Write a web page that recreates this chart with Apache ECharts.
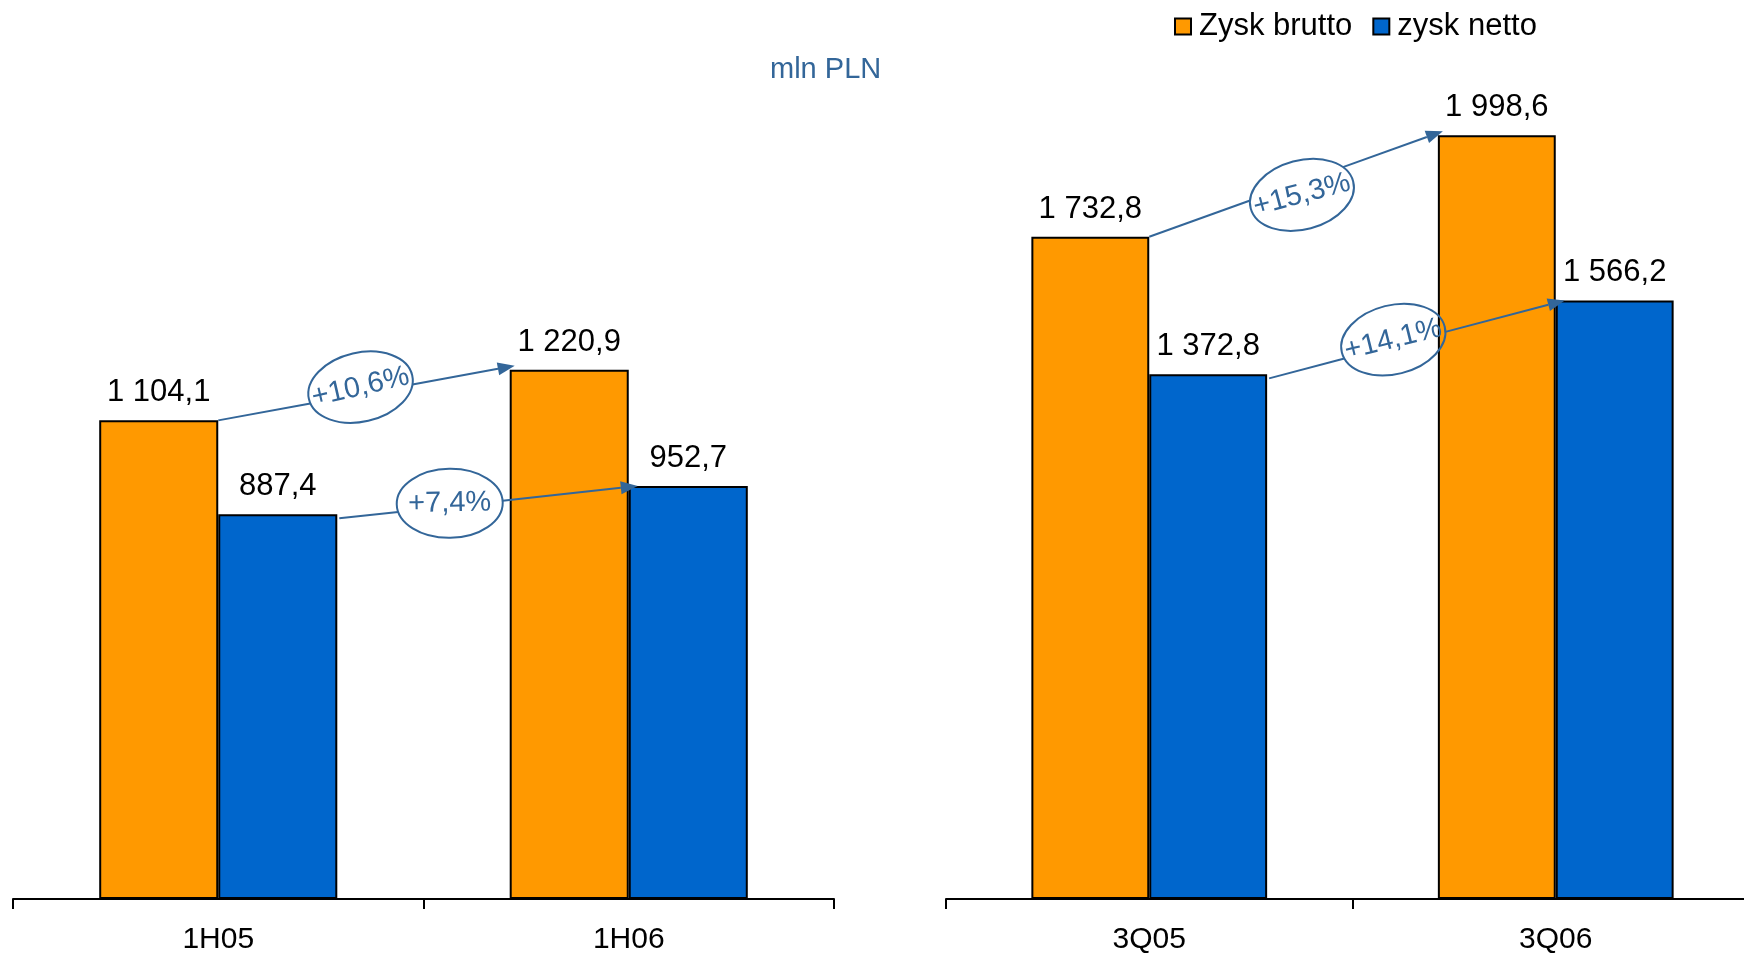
<!DOCTYPE html>
<html>
<head>
<meta charset="utf-8">
<script src="https://cdn.jsdelivr.net/npm/echarts@6/dist/echarts.min.js"></script>
<style>
  html, body { margin: 0; padding: 0; background: #fff; }
  #chart { width: 1744px; height: 963px; }
</style>
</head>
<body>
<div id="chart"></div>
<script>
const leftCats = ['1H05', '1H06'];
const rightCats = ['3Q05', '3Q06'];
const bruttoLeft = [1104.1, 1220.9];
const nettoLeft = [887.4, 952.7];
const bruttoRight = [1732.8, 1998.6];
const nettoRight = [1372.8, 1566.2];
const growthLeft = ['+10,6%', '+7,4%'];
const growthRight = ['+15,3%', '+14,1%'];

const ORANGE = '#FF9900';
const BLUE = '#0066CC';
const NOTE = '#336699';
const GAP = 0.42;
const FONT = "'Liberation Sans', Arial, sans-serif";

// ellipse placement along arrow (fraction), vertical nudge and tilt in degrees
const noteLeft = [{ t: 0.48, off: -7, tilt: 13 }, { t: 0.37, off: -3, tilt: 1 }];
const noteRight = [{ t: 0.52, off: 13, tilt: 15 }, { t: 0.42, off: -6, tilt: 14 }];

function fmt(v) {
  const parts = v.toFixed(1).split('.');
  return parts[0].replace(/\B(?=(\d{3})+(?!\d))/g, ' ') + ',' + parts[1];
}

function arrowData(brutto, netto) {
  return [
    [0, brutto[0], 1, brutto[1], 0],
    [0, netto[0], 1, netto[1], 1]
  ];
}

function makeRender(labels, notes) {
  return function (params, api) {
    const i = params.dataIndex;
    const side = api.value(4);
    const p0 = api.coord([api.value(0), api.value(1)]);
    const p1 = api.coord([api.value(2), api.value(3)]);
    const band = api.size([1, 0])[0];
    const barW = band * (1 - GAP) / 2;
    const sx = side ? p0[0] + barW + 2 : p0[0];
    const sy = side ? p0[1] + 4 : p0[1];
    const ex = side ? p1[0] + 9 : p1[0] - barW + 5;
    const ey = side ? p1[1] : p1[1] - 4;
    const dx = ex - sx, dy = ey - sy;
    const len = Math.sqrt(dx * dx + dy * dy);
    const ux = dx / len, uy = dy / len;
    const n = notes[i];
    const cx = sx + dx * n.t, cy = sy + dy * n.t + n.off;
    const rx = 53, ry = 34.5;
    const rot = n.tilt * Math.PI / 180;
    // line / ellipse crossing, in the ellipse's own frame
    const c = Math.cos(rot), s = Math.sin(rot);
    const ax = (sx - cx) * c - (sy - cy) * s, ay = (sx - cx) * s + (sy - cy) * c;
    const bx0 = ux * c - uy * s, by0 = ux * s + uy * c;
    const A = bx0 * bx0 / (rx * rx) + by0 * by0 / (ry * ry);
    const B = 2 * (ax * bx0 / (rx * rx) + ay * by0 / (ry * ry));
    const C = ax * ax / (rx * rx) + ay * ay / (ry * ry) - 1;
    const disc = B * B - 4 * A * C;
    const hl = 17, hw = 6.5;
    const hx = ex - ux * hl, hy = ey - uy * hl;
    const lineStyle = { stroke: NOTE, lineWidth: 2 };
    const lines = [];
    if (disc > 0) {
      const s1 = (-B - Math.sqrt(disc)) / (2 * A);
      const s2 = (-B + Math.sqrt(disc)) / (2 * A);
      lines.push({ type: 'line', shape: { x1: sx, y1: sy, x2: sx + ux * s1, y2: sy + uy * s1 }, style: lineStyle });
      lines.push({ type: 'line', shape: { x1: sx + ux * s2, y1: sy + uy * s2, x2: hx, y2: hy }, style: lineStyle });
    } else {
      lines.push({ type: 'line', shape: { x1: sx, y1: sy, x2: hx, y2: hy }, style: lineStyle });
    }
    return {
      type: 'group',
      children: lines.concat([
        {
          type: 'polygon',
          shape: { points: [[ex, ey], [hx - uy * hw, hy + ux * hw], [hx + uy * hw, hy - ux * hw]] },
          style: { fill: NOTE }
        },
        {
          type: 'ellipse', x: cx, y: cy, rotation: rot,
          shape: { cx: 0, cy: 0, rx: rx, ry: ry },
          style: { fill: null, stroke: NOTE, lineWidth: 2 }
        },
        {
          type: 'text', x: cx, y: cy, rotation: rot,
          style: {
            text: labels[i], fill: NOTE, fontSize: 29, fontFamily: FONT,
            align: 'center', verticalAlign: 'middle'
          }
        }
      ])
    };
  };
}

function barSeries(name, color, data, idx) {
  return {
    name: name,
    type: 'bar',
    xAxisIndex: idx,
    yAxisIndex: idx,
    data: data,
    barGap: 0,
    barCategoryGap: GAP * 100 + '%',
    itemStyle: { color: color, borderColor: '#000', borderWidth: 2 },
    label: {
      show: true, position: 'top', distance: 12, color: '#000',
      fontSize: 31, fontFamily: FONT, formatter: p => fmt(p.value)
    }
  };
}

const xAxisBase = {
  type: 'category',
  axisLine: { lineStyle: { color: '#000', width: 2 } },
  axisTick: { show: true, length: 10, lineStyle: { color: '#000', width: 2 } },
  axisLabel: { color: '#000', fontSize: 30, fontFamily: FONT, margin: 26 }
};

const chart = echarts.init(document.getElementById('chart'));
chart.setOption({
  animation: false,
  title: {
    text: 'mln PLN', left: 765, top: 50,
    textStyle: { color: NOTE, fontSize: 29, fontWeight: 'normal', fontFamily: FONT }
  },
  legend: {
    data: ['Zysk brutto', 'zysk netto'],
    left: 1169, top: 6,
    itemWidth: 16, itemHeight: 16, itemGap: 20,
    icon: 'rect',
    textStyle: { color: '#000', fontSize: 31, fontFamily: FONT, padding: [0, 0, 0, 3] }
  },
  grid: [
    { left: 13, right: 910, top: 32, bottom: 64, outerBoundsMode: 'none' },
    { left: 946, width: 813, top: 20, bottom: 64, outerBoundsMode: 'none' }
  ],
  xAxis: [
    Object.assign({ gridIndex: 0, data: leftCats }, xAxisBase),
    Object.assign({ gridIndex: 1, data: rightCats }, xAxisBase)
  ],
  yAxis: [
    { gridIndex: 0, type: 'value', min: 0, max: 2000, show: false },
    { gridIndex: 1, type: 'value', min: 0, max: 2300, show: false }
  ],
  series: [
    barSeries('Zysk brutto', ORANGE, bruttoLeft, 0),
    barSeries('zysk netto', BLUE, nettoLeft, 0),
    barSeries('Zysk brutto', ORANGE, bruttoRight, 1),
    barSeries('zysk netto', BLUE, nettoRight, 1),
    {
      type: 'custom', xAxisIndex: 0, yAxisIndex: 0, silent: true, z: 5,
      encode: { x: [0, 2], y: [1, 3] },
      data: arrowData(bruttoLeft, nettoLeft),
      renderItem: makeRender(growthLeft, noteLeft)
    },
    {
      type: 'custom', xAxisIndex: 1, yAxisIndex: 1, silent: true, z: 5,
      encode: { x: [0, 2], y: [1, 3] },
      data: arrowData(bruttoRight, nettoRight),
      renderItem: makeRender(growthRight, noteRight)
    }
  ]
});
</script>
</body>
</html>
